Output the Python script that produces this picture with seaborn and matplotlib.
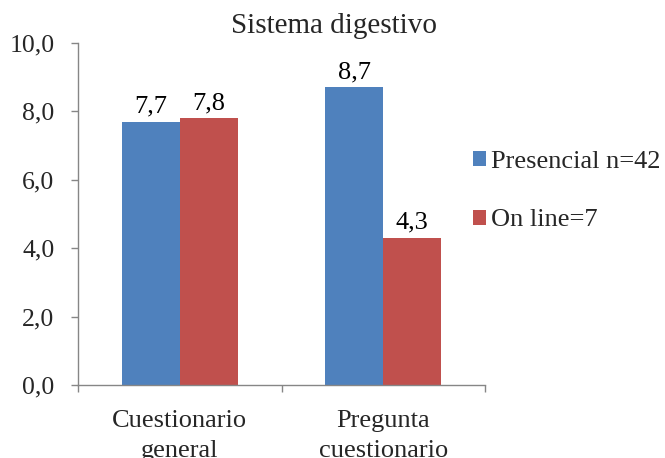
import matplotlib
matplotlib.use("Agg")
import matplotlib.pyplot as plt
from matplotlib.ticker import FuncFormatter, FixedLocator
import seaborn as sns
import pandas as pd

# ---- data ----
categories = ["Cuestionario\ngeneral", "Pregunta\ncuestionario"]
series_names = ["Presencial n=42", "On line=7"]
presencial = [7.7, 8.7]
online = [7.8, 4.3]
title = "Sistema digestivo"
colors = ["#4F81BD", "#C0504D"]

df = pd.DataFrame({
    "cat": categories * 2,
    "serie": [series_names[0]] * 2 + [series_names[1]] * 2,
    "valor": presencial + online,
})

sns.set_style("white")
plt.rcParams["font.family"] = ["Liberation Serif", "DejaVu Serif"]
plt.rcParams["font.size"] = 19

fig = plt.figure(figsize=(6.65, 4.58), dpi=100)
ax = fig.add_axes([78 / 665, 1 - 385 / 458, (485 - 78) / 665, (385 - 43) / 458])

sns.barplot(data=df, x="cat", y="valor", hue="serie", order=categories,
            hue_order=series_names, palette=colors, width=0.57, gap=0,
            saturation=1, ax=ax, legend=True, edgecolor="none")

fmt = lambda v: f"{v:.1f}".replace(".", ",")
for cont in ax.containers:
    ax.bar_label(cont, labels=[fmt(b.get_height()) for b in cont],
                 padding=3, fontsize=19, color="black")

ax.set_ylim(0, 10)
ax.set_xlim(-0.5, 1.5)
ax.set_yticks([0, 2, 4, 6, 8, 10])
ax.yaxis.set_major_formatter(FuncFormatter(lambda v, p: fmt(v)))
ax.set_xlabel("")
ax.set_ylabel("")

gray = "#868686"
for s in ["top", "right"]:
    ax.spines[s].set_visible(False)
for s in ["left", "bottom"]:
    ax.spines[s].set_color(gray)
    ax.spines[s].set_linewidth(1.0)

ax.tick_params(axis="y", direction="out", length=5, width=1, color=gray,
               pad=12, labelsize=18.5, left=True)
ax.tick_params(axis="x", which="major", length=0, pad=18, labelsize=19)
ax.xaxis.set_minor_locator(FixedLocator([-0.5, 0.5, 1.5]))
ax.tick_params(axis="x", which="minor", direction="out", length=5, width=1,
               color=gray, bottom=True)
for lab in ax.get_xticklabels():
    lab.set_linespacing(1.45)

fig.text(334 / 665, 1 - 26 / 458, title, ha="center", va="center", fontsize=21)

handles, labels = ax.get_legend_handles_labels()
ax.legend_.remove()
fig.legend(handles, labels, loc="center left",
           bbox_to_anchor=(473 / 665, 1 - 191 / 458), frameon=False,
           handlelength=0.5, handleheight=0.5, handletextpad=0.2,
           labelspacing=1.4, borderpad=0, borderaxespad=0, fontsize=19)

fig.savefig("out.png", dpi=100)
